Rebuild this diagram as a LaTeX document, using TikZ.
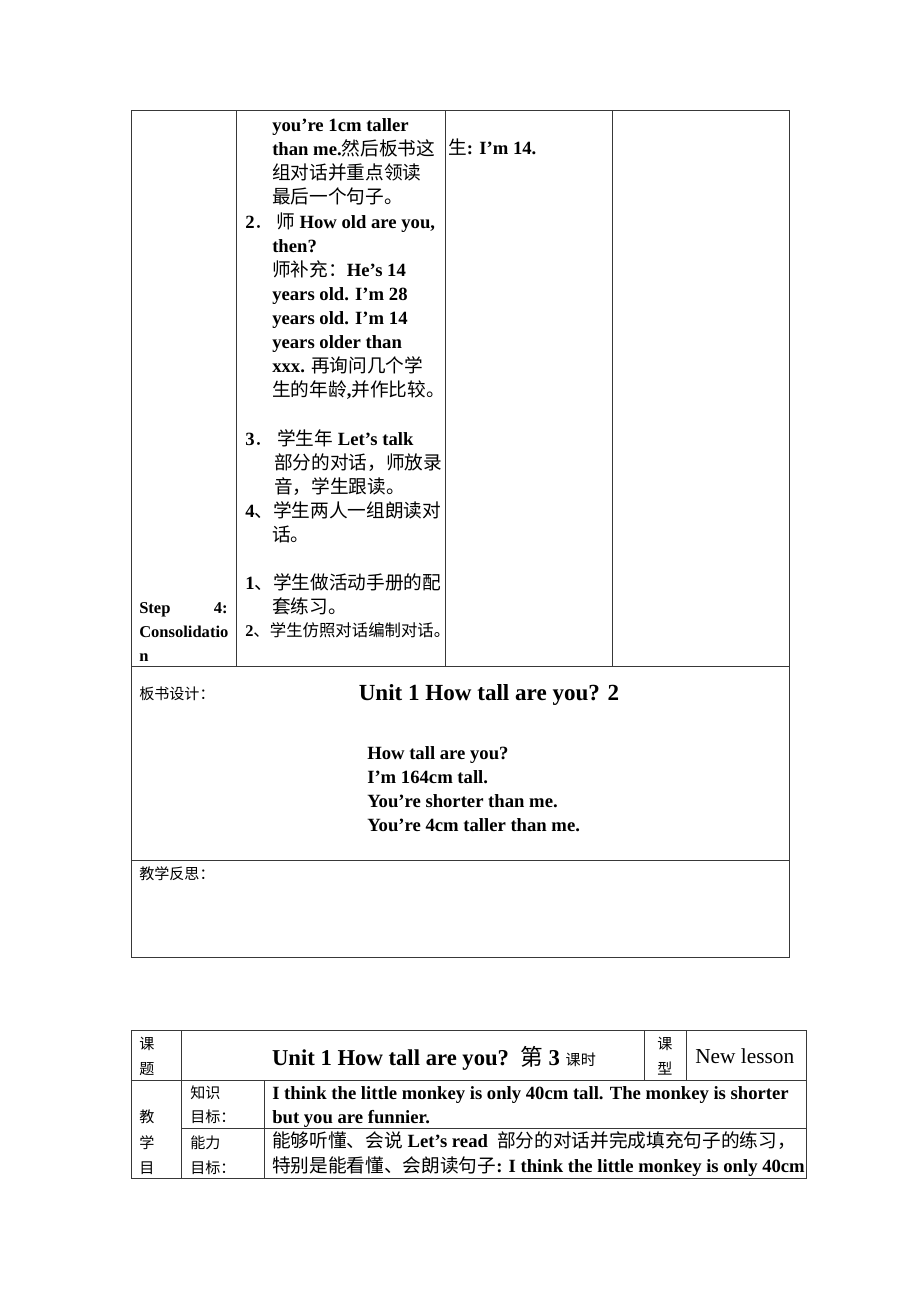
\documentclass[tikz,border=0pt]{standalone}
\usepackage{fontspec}
\setmainfont{Liberation Serif}
\newfontfamily\cjk{Noto Sans CJK SC}
\newcommand\zh[1]{{\cjk\mdseries #1}}
\tikzset{
  grid line/.style={draw=black!78, line width=0.75pt},
  bt/.style={anchor=base west, inner sep=0pt, font=\fontsize{14}{18}\selectfont\bfseries},
  st/.style={anchor=base west, inner sep=0pt, font=\fontsize{11.3}{13}\selectfont},
}
\begin{document}
\begin{tikzpicture}[x=0.75pt,y=-0.75pt]
\useasboundingbox (0,0) rectangle (920,1302);
\fill[white] (0,0) rectangle (920,1302);
% ---------- table 1 ----------
\draw[grid line] (131,111) rectangle (789,957);
\draw[grid line] (236,111) -- (236,666);
\draw[grid line] (445,111) -- (445,666);
\draw[grid line] (612,111) -- (612,666);
\draw[grid line] (131,666) -- (789,666);
\draw[grid line] (131,860) -- (789,860);
% column 2
\node[bt] (a1) at (272,132) {you’re 1cm taller};
\node[bt] (a2) at (272,156) {than me.\zh{然后板书这}};
\node[bt] (a3) at (272,180) {\zh{组对话并重点领读}};
\node[bt] (a4) at (272,204) {\zh{最后一个句子。}};
\node[bt] (a5n) at (245,228) {2\zh{．}};
\node[bt] (a5) at (276,228) {\zh{师} How old are you,};
\node[bt] (a6) at (272,252) {then?};
\node[bt] (a7) at (272,276) {\zh{师补充：}He’s 14};
\node[bt] (a8) at (272,300) {years old. I’m 28};
\node[bt] (a9) at (272,324) {years old. I’m 14};
\node[bt] (a10) at (272,348) {years older than};
\node[bt] (a11) at (272,372) {xxx. \zh{再询问几个学}};
\node[bt] (a12) at (272,396) {\zh{生的年龄}{,}\zh{并作比较。}};
\node[bt] (b1n) at (245,445) {3\zh{．}};
\node[bt] (b1) at (277,445) {\zh{学生年} Let’s talk};
\node[bt] (b2) at (274,469) {\zh{部分的对话，师放录}};
\node[bt] (b3) at (274,493) {\zh{音，学生跟读。}};
\node[bt] (b4) at (245,517) {4\zh{、学生两人一组朗读对}};
\node[bt] (b5) at (272,541) {\zh{话。}};
\node[bt] (c1) at (245,589) {1\zh{、学生做活动手册的配}};
\node[bt] (c2) at (272,613) {\zh{套练习。}};
\node[bt, font=\fontsize{12.3}{14}\selectfont\bfseries] (c3) at (245,636) {2\zh{、学生仿照对话编制对话。}};
% column 1
\node[bt, font=\fontsize{12.4}{15}\selectfont\bfseries] (s1) at (139,613) {Step};
\node[bt, anchor=base east, font=\fontsize{12.4}{15}\selectfont\bfseries] (s2) at (228,613) {4:};
\node[bt, font=\fontsize{12.4}{15}\selectfont\bfseries] (s3) at (139,637) {Consolidatio};
\node[bt, font=\fontsize{12.4}{15}\selectfont\bfseries] (s4) at (139,661) {n};
% column 3
\node[bt] (d1) at (448,155) {\zh{生}: I’m 14.};
% board design
\node[st] (bd) at (139,699) {\zh{板书设计：}};
\node[bt, anchor=base, font=\fontsize{17.3}{20}\selectfont\bfseries] (title1) at (489,700) {Unit 1 How tall are you? 2};
\node[bt] (e1) at (367,759) {How tall are you?};
\node[bt] (e2) at (367,783) {I’m 164cm tall.};
\node[bt] (e3) at (367,807) {You’re shorter than me.};
\node[bt] (e4) at (367,831) {You’re 4cm taller than me.};
\node[st] (rf) at (139,879) {\zh{教学反思：}};
% ---------- table 2 ----------
\draw[grid line] (131,1030) rectangle (806,1178);
\draw[grid line] (131,1080) -- (806,1080);
\draw[grid line] (181,1030) -- (181,1178);
\draw[grid line] (644,1030) -- (644,1080);
\draw[grid line] (686,1030) -- (686,1080);
\draw[grid line] (264,1080) -- (264,1178);
\draw[grid line] (181,1128) -- (806,1128);
\node[st] (k1) at (139,1049) {\zh{课}};
\node[st] (k2) at (139,1074) {\zh{题}};
\node[bt, anchor=base, font=\fontsize{17}{20}\selectfont\bfseries] (title2) at (434,1065) {Unit 1 How tall are you?\ \ \zh{第} 3 {\fontsize{11.3}{13}\selectfont\zh{课时}}};
\node[st] (x1) at (657,1049) {\zh{课}};
\node[st] (x2) at (657,1074) {\zh{型}};
\node[anchor=base west, inner sep=0pt, font=\fontsize{16}{19}\selectfont] (nl) at (695,1063) {New lesson};
\node[st] (j1) at (139,1122) {\zh{教}};
\node[st] (j2) at (139,1148) {\zh{学}};
\node[st] (j3) at (139,1173) {\zh{目}};
\node[st] (m1) at (190,1098) {\zh{知识}};
\node[st] (m2) at (190,1122) {\zh{目标：}};
\node[st] (m3) at (190,1148) {\zh{能力}};
\node[st] (m4) at (190,1173) {\zh{目标：}};
\node[bt] (r1) at (272,1099) {I think the little monkey is only 40cm tall. The monkey is shorter};
\node[bt] (r2) at (272,1123) {but you are funnier.};
\node[bt] (r3) at (272,1147) {\zh{能够听懂、会说} Let’s read \ \zh{部分的对话并完成填充句子的练习，}};
\node[bt] (r4) at (272,1172) {\zh{特别是能看懂、会朗读句子}: I think the little monkey is only 40cm};
\end{tikzpicture}
\end{document}
